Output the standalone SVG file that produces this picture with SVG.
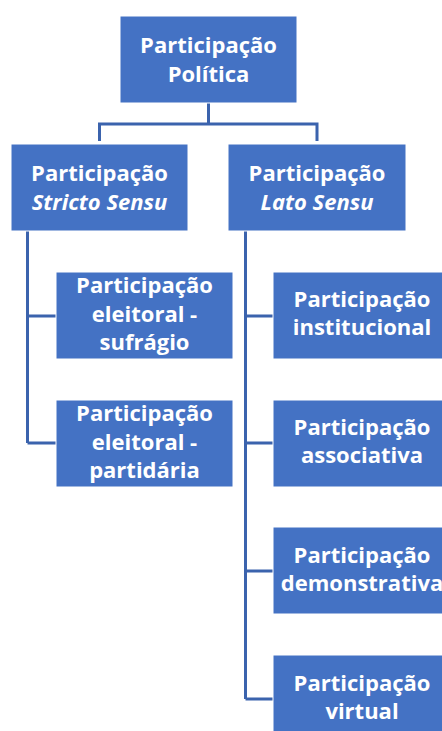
<svg xmlns="http://www.w3.org/2000/svg" width="442" height="731" viewBox="0 0 442 731">
<style>
.box{fill:#4472C4;stroke:#FFFFFF;stroke-width:1}
.t{font-family:"Open Sans","Noto Sans","Liberation Sans",sans-serif;font-weight:700;font-size:22px;fill:#FFFFFF;text-anchor:middle}
.i{font-style:italic}
.c{fill:none;stroke:#3B63AD;stroke-width:3}
</style>
<rect width="442" height="731" fill="#FFFFFF"/>
<g id="connectors">
<path class="c" d="M208.5,103 V124 M99.5,141 V124 H317 V141"/>
<path class="c" d="M27.5,231 V443 M27.5,316 H56 M27.5,443 H56"/>
<path class="c" d="M245.5,231 V699 M245.5,316 H273 M245.5,443 H273 M245.5,571 H273 M245.5,699 H273"/>
</g>
<g id="n-politica">
<rect class="box" x="120" y="16" width="177" height="87"/>
<text class="t" x="208.5" y="53">Participação</text>
<text class="t" x="208.5" y="82">Política</text>
</g>
<g id="n-stricto">
<rect class="box" x="11" y="144" width="177" height="87"/>
<text class="t" x="99.5" y="181">Participação</text>
<text class="t i" x="99.5" y="210">Stricto Sensu</text>
</g>
<g id="n-lato">
<rect class="box" x="228" y="144" width="178" height="87"/>
<text class="t" x="317" y="181">Participação</text>
<text class="t i" x="317" y="210">Lato Sensu</text>
</g>
<g id="n-sufragio">
<rect class="box" x="56" y="272" width="177" height="87"/>
<text class="t" x="144.5" y="293">Participação</text>
<text class="t" x="144.5" y="322">eleitoral -</text>
<text class="t" x="144.5" y="350">sufrágio</text>
</g>
<g id="n-partidaria">
<rect class="box" x="56" y="400" width="177" height="87"/>
<text class="t" x="144.5" y="421">Participação</text>
<text class="t" x="144.5" y="450">eleitoral -</text>
<text class="t" x="144.5" y="478">partidária</text>
</g>
<g id="n-institucional">
<rect class="box" x="273" y="272" width="178" height="87"/>
<text class="t" x="362" y="307">Participação</text>
<text class="t" x="362" y="335">institucional</text>
</g>
<g id="n-associativa">
<rect class="box" x="273" y="400" width="178" height="87"/>
<text class="t" x="362" y="435">Participação</text>
<text class="t" x="362" y="463">associativa</text>
</g>
<g id="n-demonstrativa">
<rect class="box" x="273" y="527" width="178" height="87"/>
<text class="t" x="362" y="563">Participação</text>
<text class="t" x="362" y="591">demonstrativa</text>
</g>
<g id="n-virtual">
<rect class="box" x="273" y="655" width="178" height="87"/>
<text class="t" x="362" y="691">Participação</text>
<text class="t" x="362" y="719">virtual</text>
</g>
</svg>
